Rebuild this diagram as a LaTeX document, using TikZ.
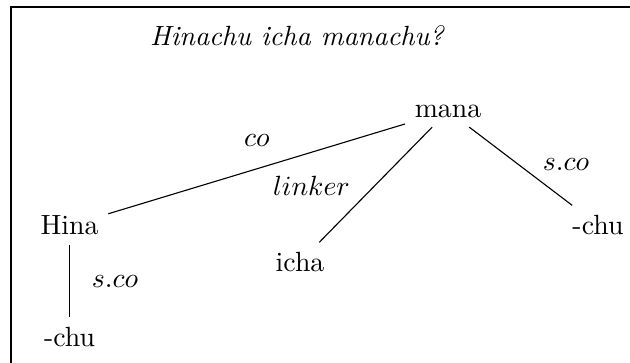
\documentclass[tikz,border=0pt]{standalone}
\usepackage{tikz}
\usetikzlibrary{positioning}

\begin{document}
\begin{tikzpicture}[
    word/.style={inner sep=3.33pt},
    rel/.style={inner sep=0pt, font=\itshape}
  ]
    \clip (0,0) rectangle (7.965,4.589);
    \draw[line width=0.5pt] (0.139,-1) rectangle (9,4.501);

    \node[word] (q) at (3.761,4.142) {\textit{Hinachu icha manachu?}};

    \node[word] (mana) at (5.664,3.186) {mana};
    \node[word] (hina) at (0.879,1.738) {Hina};
    \node[word] (icha) at (3.793,1.277) {icha};
    \node[word] (chuR) at (7.560,1.745) {-chu};
    \node[word] (chuL) at (0.879,0.329) {-chu};

    \draw (mana) -- (hina);
    \draw (mana) -- (icha);
    \draw (mana) -- (chuR);
    \draw (hina) -- (chuL);

    \node[rel] (lco) at (3.249,2.807) {$co$};
    \node[rel] (llink) at (3.938,2.245) {$linker$};
    \node[rel] (lscoR) at (7.156,2.507) {$s.co$};
    \node[rel] (lscoL) at (1.454,1.024) {$s.co$};
  \end{tikzpicture}
\end{document}
